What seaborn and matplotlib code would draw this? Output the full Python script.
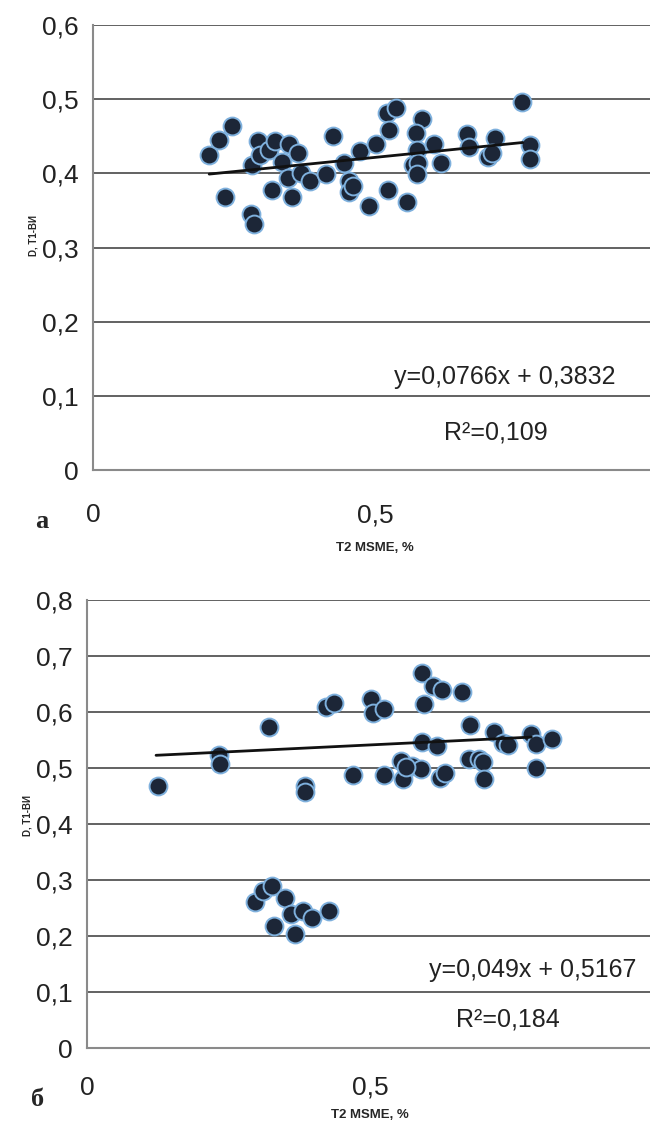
import matplotlib
matplotlib.use("Agg")
import matplotlib.pyplot as plt
import seaborn as sns
import numpy as np
import pandas as pd

# ---- data: panel а ----
a_x = [0.206, 0.223, 0.246, 0.234, 0.280, 0.286, 0.282, 0.293, 0.296, 0.312,
       0.323, 0.317, 0.335, 0.348, 0.363, 0.346, 0.353, 0.369, 0.385, 0.413,
       0.426, 0.445, 0.454, 0.454, 0.461, 0.473, 0.489, 0.502, 0.523, 0.521,
       0.537, 0.525, 0.557, 0.583, 0.573, 0.574, 0.567, 0.576, 0.574, 0.605,
       0.617, 0.663, 0.667, 0.713, 0.700, 0.707, 0.761, 0.775, 0.775]
a_y = [0.425, 0.445, 0.464, 0.368, 0.345, 0.332, 0.411, 0.443, 0.425, 0.431,
       0.443, 0.377, 0.415, 0.439, 0.427, 0.394, 0.368, 0.400, 0.389, 0.399,
       0.451, 0.414, 0.389, 0.375, 0.383, 0.430, 0.356, 0.440, 0.378, 0.482,
       0.488, 0.458, 0.361, 0.473, 0.455, 0.431, 0.411, 0.414, 0.399, 0.439,
       0.414, 0.453, 0.435, 0.447, 0.422, 0.427, 0.496, 0.438, 0.419]
a_slope, a_intercept = 0.0766, 0.3832
a_trend_x = [0.206, 0.762]
a_eq = "y=0,0766x + 0,3832"
a_r2 = "R²=0,109"
a_yticks = [0, 0.1, 0.2, 0.3, 0.4, 0.5, 0.6]
a_yticklabels = ["0", "0,1", "0,2", "0,3", "0,4", "0,5", "0,6"]

# ---- data: panel б ----
b_x = [0.125, 0.233, 0.235, 0.322, 0.385, 0.386, 0.422, 0.436, 0.470, 0.502,
       0.506, 0.525, 0.525, 0.555, 0.559, 0.574, 0.590, 0.564, 0.591, 0.595,
       0.592, 0.611, 0.627, 0.618, 0.624, 0.632, 0.662, 0.677, 0.675, 0.693,
       0.700, 0.701, 0.719, 0.735, 0.744, 0.784, 0.793, 0.793, 0.822,
       0.296, 0.311, 0.327, 0.350, 0.360, 0.382, 0.397, 0.428, 0.331, 0.367]
b_y = [0.468, 0.523, 0.507, 0.573, 0.468, 0.457, 0.609, 0.616, 0.488, 0.623,
       0.598, 0.605, 0.488, 0.512, 0.480, 0.503, 0.498, 0.502, 0.546, 0.614,
       0.669, 0.646, 0.639, 0.540, 0.482, 0.491, 0.636, 0.577, 0.516, 0.516,
       0.511, 0.480, 0.564, 0.545, 0.541, 0.561, 0.543, 0.500, 0.552,
       0.261, 0.281, 0.289, 0.267, 0.239, 0.245, 0.233, 0.245, 0.217, 0.204]
b_slope, b_intercept = 0.049, 0.5167
b_trend_x = [0.122, 0.785]
b_eq = "y=0,049x + 0,5167"
b_r2 = "R²=0,184"
b_yticks = [0, 0.1, 0.2, 0.3, 0.4, 0.5, 0.6, 0.7, 0.8]
b_yticklabels = ["0", "0,1", "0,2", "0,3", "0,4", "0,5", "0,6", "0,7", "0,8"]

xticks = [0, 0.5]
xticklabels = ["0", "0,5"]
xlabel = "T2 MSME, %"
ylabel = "D, Т1-ВИ"

sns.set_theme(style="white")
FAM = ["Liberation Sans", "DejaVu Sans"]
plt.rcParams["font.family"] = FAM

fig = plt.figure(figsize=(6.5, 11.27), dpi=100)
W, H = 650, 1127

def make_ax(left, right, bottom, top):
    return fig.add_axes([left / W, 1 - bottom / H, (right - left) / W, (bottom - top) / H])

ax_a = make_ax(93, 657, 470, 25)
ax_b = make_ax(87, 653, 1048, 600)

def style(ax, x, y, slope, intercept, tx, eq, r2, eqpos, r2pos, yticks, ylabels, ymax, xpad):
    df = pd.DataFrame({"x": x, "y": y})
    sns.scatterplot(data=df, x="x", y="y", ax=ax, s=165, color="#1c2637",
                    edgecolor="#7eb0dd", linewidth=1.4, zorder=3, legend=False)
    tdf = pd.DataFrame({"x": tx, "y": [slope * v + intercept for v in tx]})
    sns.lineplot(data=tdf, x="x", y="y", ax=ax, color="#111111", linewidth=2.0, zorder=4)
    ax.set_xlim(0, 1)
    ax.set_ylim(0, ymax)
    ax.set_yticks(yticks)
    ax.set_yticklabels(ylabels, fontsize=19, color="#222222")
    ax.set_xticks(xticks)
    ax.set_xticklabels(xticklabels, fontsize=19, color="#222222")
    ax.tick_params(axis="both", length=0)
    ax.tick_params(axis="y", pad=10)
    ax.tick_params(axis="x", pad=xpad)
    for v in yticks[1:]:
        ax.axhline(v, color="#555555", linewidth=1.3, zorder=1)
    for s in ["top", "right"]:
        ax.spines[s].set_visible(False)
    for s in ["left", "bottom"]:
        ax.spines[s].set_color("#8a8a8a")
        ax.spines[s].set_linewidth(1.5)
    ax.set_xlabel("")
    ax.set_ylabel("")
    ax.text(eqpos[0], eqpos[1], eq, fontsize=18, ha="center", va="center", color="#222222")
    ax.text(r2pos[0], r2pos[1], r2, fontsize=18, ha="center", va="center", color="#222222")

style(ax_a, a_x, a_y, a_slope, a_intercept, a_trend_x, a_eq, a_r2,
      (0.73, 0.125), (0.715, 0.051), a_yticks, a_yticklabels, 0.6, 24)
style(ax_b, b_x, b_y, b_slope, b_intercept, b_trend_x, b_eq, b_r2,
      (0.788, 0.139), (0.744, 0.05), b_yticks, b_yticklabels, 0.8, 20)

# axis labels
fig.text(375 / W, 1 - 548 / H, xlabel, fontsize=9.5, fontweight="bold", ha="center", va="center", family=FAM)
fig.text(370 / W, 1 - 1115 / H, xlabel, fontsize=9.5, fontweight="bold", ha="center", va="center", family=FAM)
fig.text(33 / W, 1 - 235 / H, ylabel, fontsize=7, fontweight="bold", rotation=90, ha="center", va="center", family=FAM)
fig.text(28 / W, 1 - 815 / H, ylabel, fontsize=7, fontweight="bold", rotation=90, ha="center", va="center", family=FAM)

# panel labels
fig.text(42 / W, 1 - 522 / H, "а", fontsize=19, fontweight="bold", ha="center", va="center",
         family=["Liberation Serif", "DejaVu Serif"])
fig.text(38 / W, 1 - 1100 / H, "б", fontsize=19, fontweight="bold", ha="center", va="center",
         family=["Liberation Serif", "DejaVu Serif"])

fig.savefig("out.png", dpi=100)
